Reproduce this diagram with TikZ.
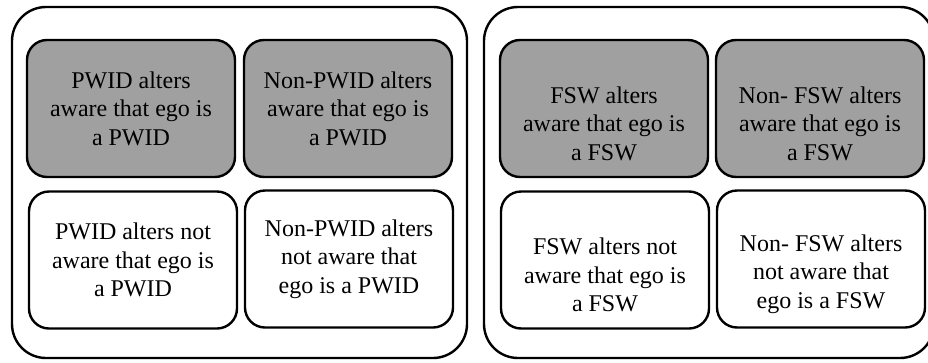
\documentclass[tikz,border=0pt]{standalone}
\usepackage{fontspec}
\setmainfont{Liberation Serif}
\usetikzlibrary{positioning}
\definecolor{boxgray}{RGB}{160,160,160}

\begin{document}
\begin{tikzpicture}[
			x=1pt, y=-1pt,
			panel/.style={draw, line width=2.4pt, rounded corners=34pt},
			cell/.style={draw, line width=2.4pt, rounded corners=20pt, minimum width=208pt, minimum height=137pt, inner sep=0pt},
			aware/.style={cell, fill=boxgray},
			unaware/.style={cell, fill=white},
			txt/.style={align=center, font=\fontsize{24}{28.5}\selectfont, inner sep=0pt}
			]
			\useasboundingbox (0,0) rectangle (928,362);
			\clip (0,0) rectangle (928,362);
			
			% Pannelli esterni
			\draw[panel] (12,7) rectangle (467,358);
			\draw[panel] (484,7) rectangle (934,358);
			
			% Pannello PWID
			\node[aware] (pwA) at (131,108.5) {};
			\node[aware] (pwB) at (348,108.5) {};
			\node[unaware] (pwC) at (133,260) {};
			\node[unaware] (pwD) at (349,259) {};
			\node[txt] (pwAt) at (pwA.center) {PWID alters\\aware that ego is\\a PWID};
			\node[txt] (pwBt) at (pwB.center) {Non-PWID alters\\aware that ego is\\a PWID};
			\node[txt] (pwCt) at (pwC.center) {PWID alters not\\aware that ego is\\a PWID};
			\node[txt] (pwDt) at (pwD.center) {Non-PWID alters\\not aware that\\ego is a PWID};
			
			% Pannello FSW
			\node[aware] (fsA) at (604,108.5) {};
			\node[aware] (fsB) at (820,108.5) {};
			\node[unaware] (fsC) at (605,260) {};
			\node[unaware] (fsD) at (821,259) {};
			\node[txt, yshift=-15pt] (fsAt) at (fsA.center) {FSW alters\\aware that ego is\\a FSW};
			\node[txt, yshift=-15pt] (fsBt) at (fsB.center) {Non- FSW alters\\aware that ego is\\a FSW};
			\node[txt, yshift=-15pt] (fsCt) at (fsC.center) {FSW alters not\\aware that ego is\\a FSW};
			\node[txt, yshift=-15pt] (fsDt) at (fsD.center) {Non- FSW alters\\not aware that\\ego is a FSW};
			
		\end{tikzpicture}
\end{document}
